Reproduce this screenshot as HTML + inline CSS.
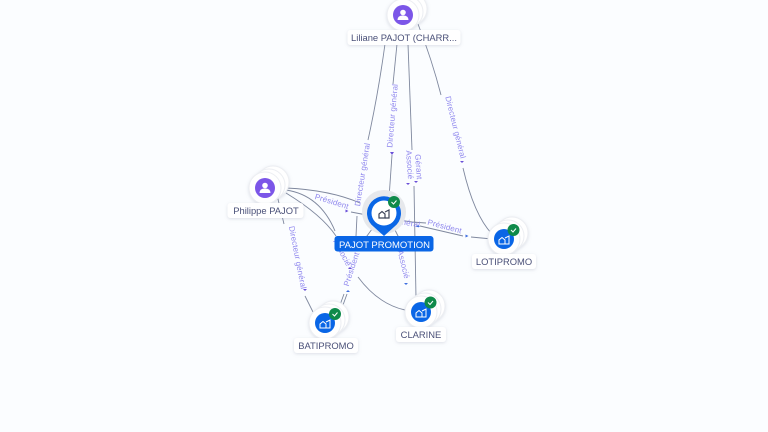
<!DOCTYPE html>
<html><head><meta charset="utf-8"><style>
html,body{margin:0;padding:0;background:#fbfdff}
svg{display:block}
text{font-family:"Liberation Sans",sans-serif}
.e{fill:none;stroke:#7f889e;stroke-width:.9}
.l{font-size:8px;fill:#9088ee;text-anchor:middle;letter-spacing:.15px}
.a{fill:#6a4fd8}
.n{font-size:9.4px;fill:#4a5078;text-anchor:middle}
.p{fill:#fff;stroke:#eceef2;stroke-width:1}
</style></head><body>
<svg width="768" height="432" viewBox="0 0 768 432" xmlns="http://www.w3.org/2000/svg">
<defs><filter id="s" x="-20%" y="-30%" width="140%" height="170%"><feDropShadow dx="0" dy="1" stdDeviation="1.5" flood-color="#8890a8" flood-opacity=".28"/></filter></defs>
<rect width="768" height="432" fill="#fbfdff"/>

<path class="e" d="M385 44 Q378 95 368 140"/>
<path class="e" d="M357 216 L356 236"/>
<path class="e" d="M347 294 L343 305"/>
<path class="e" d="M344 294 L340 305"/>
<path class="e" d="M397 44 L393 84"/>
<path class="e" d="M392 155 L389 198"/>
<path class="e" d="M408 44 L412 150"/>
<path class="e" d="M414 186 L416 298"/>
<path class="e" d="M418 24 Q432 60 441 95"/>
<path class="e" d="M463 168 Q474 215 492 234"/>
<path class="e" d="M286 188 Q330 190 360 203"/>
<path class="e" d="M351 212 L372 216 L412 222 L426 223"/>
<path class="e" d="M420 226 L463 236"/>
<path class="e" d="M471 237 L492 239"/>
<path class="e" d="M286 190 Q320 195 335 231"/>
<path class="e" d="M286 193 Q322 215 336 236"/>
<path class="e" d="M358 277 Q378 304 405 310"/>
<path class="e" d="M277 195 L284 224"/>
<path class="e" d="M305 296 L313 312"/>
<path class="e" d="M375 225 L364 240"/>
<path class="e" d="M395 230 L400 240"/>

<text class="l" transform="translate(365 175) rotate(-81)">Directeur général</text>
<text class="l" transform="translate(395 116) rotate(-85)">Directeur général</text>
<text class="l" transform="translate(416 167) rotate(86)">Gérant</text>
<text class="l" transform="translate(407 165) rotate(86)">Associé</text>
<text class="l" transform="translate(453 128) rotate(76)">Directeur général</text>
<text class="l" transform="translate(331 204) rotate(17)">Président</text>
<text class="l" transform="translate(444 229) rotate(15)">Président</text>
<text class="l" transform="translate(295 258) rotate(79)">Directeur général</text>
<text class="l" transform="translate(340 254) rotate(62)">Associé</text>
<text class="l" transform="translate(354 270) rotate(-72)">Président</text>
<text class="l" transform="translate(401 265) rotate(76)">Associé</text>
<text class="l" transform="translate(405 225) rotate(10)">Général</text>

<g class="a">
<path d="M392 152l2 3h-4z" transform="rotate(180 392 153.500)"/>
<path d="M416 181l2 2h-4z" transform="rotate(180 416 182)"/>
<path d="M408 183l2 2h-4z" transform="rotate(180 408 184)"/>
<path d="M462 161l2 2h-4z" transform="rotate(180 462 162)"/>
<path d="M345.500 209.500l3 1.500-3 1.500z"/>
<path d="M465.500 234.500l3 1.500-3 1.500z" fill="#3f6fe0"/>
<path d="M305 289l2 2h-4z" transform="rotate(180 305 290)"/>
<path d="M348 290l2 2h-4z" fill="#3f6fe0"/>
<path d="M406 283l2 2h-4z" fill="#3f6fe0" transform="rotate(180 406 284)"/>
<path d="M418 225l2 2h-4z" fill="#3f6fe0"/>
<path d="M350 267l2 2h-4z"/>
</g>

<!-- Liliane -->
<g filter="url(#s)"><circle class="p" cx="411" cy="9" r="16"/><circle class="p" cx="407" cy="12" r="16"/><circle class="p" cx="403" cy="15" r="16"/></g>
<circle cx="403" cy="15" r="10" fill="#7c56e8"/>
<circle cx="403" cy="12.500" r="2.800" fill="#fff"/><path d="M397.500 20q0-4.500 5.500-4.500t5.500 4.500z" fill="#fff"/>
<rect x="347.500" y="30" width="113" height="15" rx="3" fill="#fff" filter="url(#s)"/>
<text class="n" x="404" y="41">Liliane PAJOT (CHARR...</text>

<!-- Philippe -->
<g filter="url(#s)"><circle class="p" cx="273" cy="182" r="16"/><circle class="p" cx="269" cy="185" r="16"/><circle class="p" cx="265" cy="188" r="16"/></g>
<circle cx="265" cy="188" r="10" fill="#7c56e8"/>
<circle cx="265" cy="185.500" r="2.800" fill="#fff"/><path d="M259.500 193q0-4.500 5.500-4.500t5.500 4.500z" fill="#fff"/>
<rect x="227.500" y="203" width="76" height="15" rx="3" fill="#fff" filter="url(#s)"/>
<text class="n" x="266" y="214">Philippe PAJOT</text>

<!-- PAJOT PROMOTION -->
<circle cx="384" cy="212" r="22" fill="#e6e8ec"/>
<path d="M384 236 L374 227 A17 17 0 1 1 394 227 Z" fill="#0a66e6"/>
<circle cx="384" cy="213" r="12.500" fill="#fff"/>
<g fill="none" stroke="#3c4458" stroke-width="1.200"><path d="M379 218v-4l3-2.500 3 2.500v4z"/><path d="M385 212l4-2v8h-4"/></g>
<circle cx="394" cy="202" r="6" fill="#0f8a4a"/>
<path d="M391.500 202l2 2 3-3.500" fill="none" stroke="#fff" stroke-width="1"/>
<rect x="334.500" y="236" width="99" height="15.500" rx="3" fill="#0a66e6"/>
<text class="n" x="384.500" y="248" style="fill:#fff;font-size:9.500px">PAJOT PROMOTION</text>

<!-- LOTIPROMO -->
<g filter="url(#s)"><circle class="p" cx="512" cy="233" r="16"/><circle class="p" cx="508" cy="236" r="16"/><circle class="p" cx="504" cy="239" r="16"/></g>
<circle cx="504" cy="239" r="10" fill="#0a66e6"/>
<g fill="none" stroke="#fff" stroke-width="1"><path d="M499 244v-4l3-2.500 3 2.500v4z"/><path d="M505 238l4-2v8h-4"/></g>
<circle cx="513.500" cy="230" r="6" fill="#0f8a4a"/>
<path d="M511 230l2 2 3-3.500" fill="none" stroke="#fff" stroke-width="1"/>
<rect x="472" y="254" width="64" height="15" rx="3" fill="#fff" filter="url(#s)"/>
<text class="n" x="504" y="265">LOTIPROMO</text>

<!-- BATIPROMO -->
<g filter="url(#s)"><circle class="p" cx="333" cy="317" r="16"/><circle class="p" cx="329" cy="320" r="16"/><circle class="p" cx="325" cy="323" r="16"/></g>
<circle cx="325" cy="323" r="10" fill="#0a66e6"/>
<g fill="none" stroke="#fff" stroke-width="1"><path d="M320 328v-4l3-2.500 3 2.500v4z"/><path d="M326 322l4-2v8h-4"/></g>
<circle cx="335" cy="314" r="6" fill="#0f8a4a"/>
<path d="M332.500 314l2 2 3-3.500" fill="none" stroke="#fff" stroke-width="1"/>
<rect x="294" y="338" width="64" height="15" rx="3" fill="#fff" filter="url(#s)"/>
<text class="n" x="326" y="349">BATIPROMO</text>

<!-- CLARINE -->
<g filter="url(#s)"><circle class="p" cx="429" cy="306" r="16"/><circle class="p" cx="425" cy="309" r="16"/><circle class="p" cx="421" cy="312" r="16"/></g>
<circle cx="421" cy="312" r="10" fill="#0a66e6"/>
<g fill="none" stroke="#fff" stroke-width="1"><path d="M416 317v-4l3-2.500 3 2.500v4z"/><path d="M422 311l4-2v8h-4"/></g>
<circle cx="430.500" cy="302.500" r="6" fill="#0f8a4a"/>
<path d="M428 302.500l2 2 3-3.500" fill="none" stroke="#fff" stroke-width="1"/>
<rect x="396" y="327" width="50" height="15" rx="3" fill="#fff" filter="url(#s)"/>
<text class="n" x="421" y="338">CLARINE</text>
</svg>
</body></html>
